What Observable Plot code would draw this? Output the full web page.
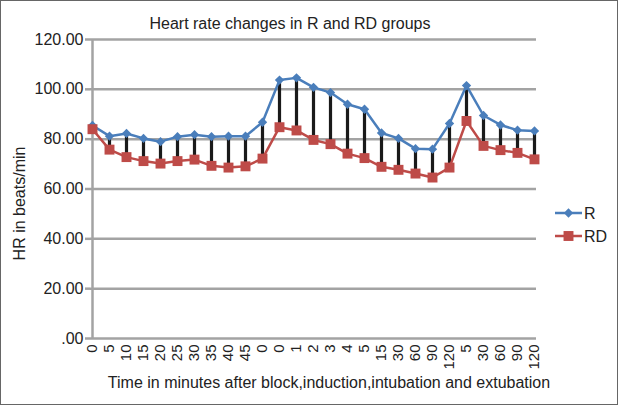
<!DOCTYPE html>
<html>
<head>
<meta charset="utf-8">
<script src="https://cdn.jsdelivr.net/npm/d3@7"></script>
<script src="https://cdn.jsdelivr.net/npm/@observablehq/plot@0.6"></script>
<style>
  body { margin: 0; background: #fff; }
  #chart { position: relative; width: 618px; height: 405px; overflow: hidden; background: #fff;
           font-family: "Liberation Sans", Arial, sans-serif; }
  #chart svg { position: absolute; left: 0; top: 0; }
</style>
</head>
<body>
<div id="chart"></div>
<script>
// ---- data ----
const timeLabels = ["0","5","10","15","20","25","30","35","40","45","0","0","1","2","3","4","5","15","30","60","90","120","5","30","60","90","120"];
const seriesNames = ["R", "RD"];
const hrR  = [85.5, 81.2, 82.3, 80.3, 79.0, 81.0, 81.8, 81.0, 81.2, 81.2, 86.8, 103.7, 104.6, 100.8, 98.7, 94.0, 92.0, 82.5, 80.3, 76.2, 76.0, 86.3, 101.5, 89.5, 85.7, 83.6, 83.3];
const hrRD = [84.0, 75.8, 72.8, 71.2, 70.2, 71.2, 71.8, 69.3, 68.6, 69.1, 72.2, 84.8, 83.5, 79.7, 78.0, 74.2, 72.4, 68.9, 67.7, 66.2, 64.6, 68.6, 87.3, 77.3, 75.6, 74.5, 71.9];
const yTicks = [0, 20, 40, 60, 80, 100, 120];
const titleText = "Heart rate changes in R and RD groups";
const xTitle = "Time in minutes after block,induction,intubation and extubation";
const yTitle = "HR in beats/min";
const seriesColors = ["#4a7ebb", "#be4b48"];

// ---- build tables ----
const idx = d3.range(timeLabels.length);
const rows = idx.flatMap(i => [
  {i, series: seriesNames[0], hr: hrR[i]},
  {i, series: seriesNames[1], hr: hrRD[i]}
]);
const pairs = idx.map(i => ({i, hi: hrR[i], lo: hrRD[i]}));
const FONT = "'Liberation Sans', Arial, sans-serif";
const GRID = "#a3a3a3";

const plot = Plot.plot({
  width: 618,
  height: 405,
  marginLeft: 90,
  marginRight: 82,
  marginTop: 39,
  marginBottom: 67,
  style: {fontFamily: FONT, fontSize: "15px", color: "#222", background: "transparent", overflow: "visible"},
  x: {type: "point", domain: idx, padding: 0, axis: null, label: null},
  y: {domain: [0, 120], axis: null, label: null},
  color: {domain: seriesNames, range: seriesColors},
  marks: [
    Plot.ruleY(yTicks, {stroke: GRID, strokeWidth: 2.5}),
    Plot.ruleX([0], {y1: 0, y2: 120, stroke: GRID, strokeWidth: 2.5}),
    Plot.axisY({ticks: yTicks, tickFormat: d => d === 0 ? ".00" : d.toFixed(2),
                tickSize: 5, tickPadding: 2, stroke: GRID, strokeWidth: 2.5,
                fill: "#222", fontSize: 16, label: null}),
    Plot.axisX({ticks: idx, tickFormat: i => timeLabels[i], tickRotate: -90,
                tickSize: 0, tickPadding: 6, fill: "#222", fontSize: 15, label: null}),
    Plot.ruleX(pairs, {x: "i", y1: "lo", y2: "hi", stroke: "#1a1a1a", strokeWidth: 3.2}),
    Plot.line(rows, {x: "i", y: "hr", z: "series", stroke: "series", strokeWidth: 2.5}),
    Plot.dot(rows.filter(d => d.series === seriesNames[0]),
             {x: "i", y: "hr", symbol: "diamond2", r: 4.2, fill: "series", stroke: null}),
    Plot.dot(rows.filter(d => d.series === seriesNames[1]),
             {x: "i", y: "hr", symbol: "square", r: 5.6, fill: "series", stroke: null})
  ]
});
const chart = document.getElementById("chart");
chart.appendChild(plot);

// ---- overlay: titles, legend, border ----
const ov = d3.select(chart).append("svg")
  .attr("width", 618).attr("height", 405)
  .style("font-family", FONT).style("pointer-events", "none");

ov.append("text").attr("x", 290).attr("y", 29).attr("text-anchor", "middle")
  .attr("font-size", 16).attr("fill", "#222").text(titleText);
ov.append("text").attr("x", 329).attr("y", 388).attr("text-anchor", "middle")
  .attr("font-size", 16).attr("fill", "#222").text(xTitle);
ov.append("text").attr("transform", "translate(25,203.5) rotate(-90)").attr("text-anchor", "middle")
  .attr("font-size", 16).attr("fill", "#222").text(yTitle);

const legY = [213, 236];
seriesNames.forEach((name, k) => {
  const y = legY[k];
  const g = ov.append("g");
  g.append("line").attr("x1", 555).attr("x2", 582).attr("y1", y).attr("y2", y)
    .attr("stroke", seriesColors[k]).attr("stroke-width", 2.5);
  if (k === 0) {
    g.append("path").attr("d", d3.symbol(d3.symbolDiamond2, Math.PI * 4.2 * 4.2)())
      .attr("transform", `translate(568.5,${y})`).attr("fill", seriesColors[k]);
  } else {
    g.append("path").attr("d", d3.symbol(d3.symbolSquare, Math.PI * 5.6 * 5.6)())
      .attr("transform", `translate(568.5,${y})`).attr("fill", seriesColors[k]);
  }
  g.append("text").attr("x", 584).attr("y", y + 6).attr("font-size", 16).attr("fill", "#222").text(name);
});

ov.append("rect").attr("x", 0.5).attr("y", 0.5).attr("width", 617).attr("height", 404)
  .attr("fill", "none").attr("stroke", "#666").attr("stroke-width", 1);
</script>
</body>
</html>
